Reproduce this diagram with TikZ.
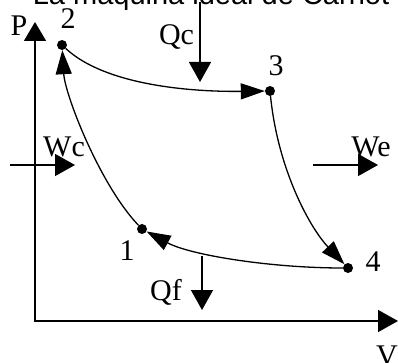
\documentclass[tikz,border=0pt]{standalone}
\usepackage{fontspec}
\setmainfont{Liberation Serif}
\newfontfamily\titlefont{Liberation Sans}
\usepackage{tikz}
\usetikzlibrary{arrows.meta,positioning}
\tikzset{
  state/.style={circle,fill,inner sep=0pt,minimum size=10pt},
  lbl/.style={font=\fontsize{30}{34}\selectfont,anchor=base,inner sep=0pt},
  axis/.style={line width=1.5pt,{Triangle[length=19pt,width=22pt]}-{Triangle[length=20pt,width=22pt]}},
  flow/.style={line width=1.5pt,-{Triangle[length=20pt,width=22pt]}},
  cycle/.style={line width=1.3pt,-{Triangle[length=24pt,width=16pt]}},
}

\begin{document}
\begin{tikzpicture}[x=1pt,y=-1pt]
\useasboundingbox (0,0) rectangle (398,363);
% title
\node[font=\titlefont\fontsize{29}{33}\selectfont,anchor=base,inner sep=0pt] (title) at (211,5) {La máquina ideal de Carnot};

% axes
\coordinate (ptop) at (35,22);
\coordinate (orig) at (35,321);
\coordinate (vend) at (398,321);
\draw[axis] (ptop) -- (orig) -- (vend);
\node[lbl] (plbl) at (19,36) {P};
\node[lbl] (vlbl) at (387,365) {V};

% states of the cycle
\node[state] (s1) at (142,229) {};
\node[state] (s2) at (62,45) {};
\node[state] (s3) at (270,91) {};
\node[state] (s4) at (348,268) {};
\node[lbl] (n1) at (127,260) {1};
\node[lbl] (n2) at (68,29) {2};
\node[lbl] (n3) at (276,76) {3};
\node[lbl] (n4) at (373,271) {4};

\draw[cycle] (s1) .. controls (100,185) and (65,95) .. (s2);
\draw[cycle] (s2) .. controls (105,85) and (190,92) .. (s3);
\draw[cycle] (s3) .. controls (278,170) and (310,228) .. (s4);
\draw[cycle] (s4) .. controls (270,268) and (190,255) .. (s1);

% heat and work
\coordinate (qcin) at (200,2);
\coordinate (qcout) at (200,82);
\draw[flow] (qcin) -- (qcout);
\node[lbl] (qc) at (176.5,45) {Qc};

\coordinate (qfin) at (202,256);
\coordinate (qfout) at (202,310);
\draw[flow] (qfin) -- (qfout);
\node[lbl] (qf) at (166,300) {Qf};

\coordinate (wcin) at (10,165);
\coordinate (wcout) at (75,165);
\draw[flow] (wcin) -- (wcout);
\node[lbl] (wc) at (64,157) {Wc};

\coordinate (wein) at (313,165);
\coordinate (weout) at (378,165);
\draw[flow] (wein) -- (weout);
\node[lbl] (we) at (371,157) {We};
\end{tikzpicture}
\end{document}
